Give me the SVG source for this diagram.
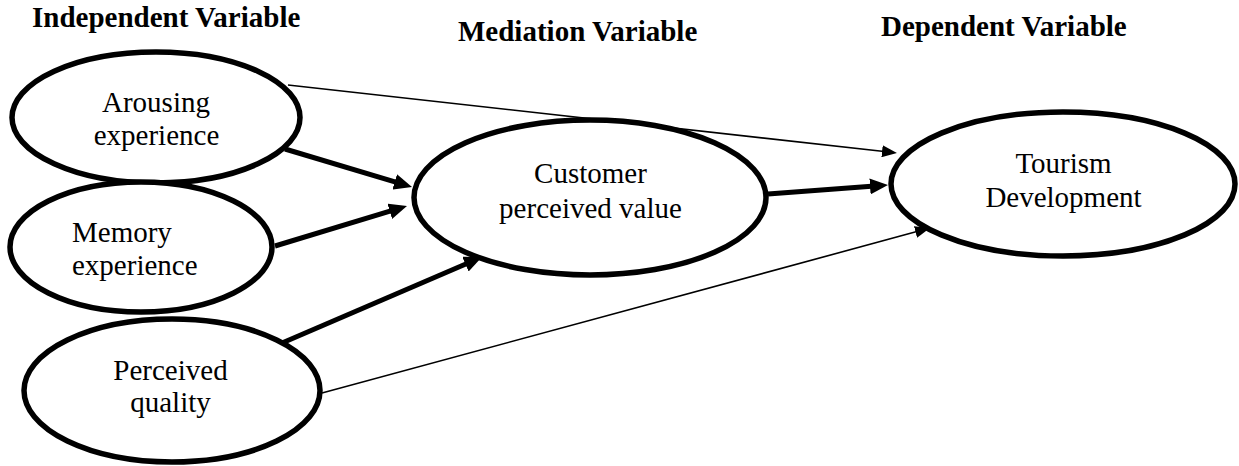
<svg xmlns="http://www.w3.org/2000/svg" width="1239" height="466" viewBox="0 0 1239 466">
  <style>
    .node ellipse { fill: #ffffff; stroke: #000000; stroke-width: 5.5; }
    .label { font-family: "Liberation Serif", "Times New Roman", serif; font-size: 29px; fill: #000000; }
    .title { font-family: "Liberation Serif", "Times New Roman", serif; font-size: 29px; font-weight: bold; fill: #000000; }
    .thick { stroke: #000000; stroke-width: 5; fill: none; marker-end: url(#headThick); }
    .thin { stroke: #000000; stroke-width: 1.6; fill: none; marker-end: url(#headThin); }
  </style>
  <defs>
    <marker id="headThick" markerUnits="userSpaceOnUse" markerWidth="18" markerHeight="16" refX="8" refY="8" orient="auto">
      <path d="M0,0 L18,8 L0,16 z" fill="#000000"/>
    </marker>
    <marker id="headThin" markerUnits="userSpaceOnUse" markerWidth="15" markerHeight="12" refX="9" refY="6" orient="auto">
      <path d="M0,0 L15,6 L0,12 z" fill="#000000"/>
    </marker>
  </defs>
  <rect width="1239" height="466" fill="#ffffff"/>

  <g id="titles">
    <text class="title" x="32" y="27">Independent Variable</text>
    <text class="title" x="458" y="41">Mediation Variable</text>
    <text class="title" x="881" y="36">Dependent Variable</text>
  </g>

  <g id="node-arousing" class="node">
    <ellipse cx="156" cy="117.5" rx="144" ry="65.5"/>
    <text class="label" x="156" y="112" text-anchor="middle">Arousing</text>
    <text class="label" x="156.5" y="145" text-anchor="middle">experience</text>
  </g>
  <g id="node-memory" class="node">
    <ellipse cx="141" cy="247" rx="131" ry="65"/>
    <text class="label" x="72" y="242">Memory</text>
    <text class="label" x="72" y="275">experience</text>
  </g>
  <g id="node-perceived" class="node">
    <ellipse cx="172" cy="390.5" rx="148" ry="71.5"/>
    <text class="label" x="170.5" y="380" text-anchor="middle">Perceived</text>
    <text class="label" x="170.5" y="412" text-anchor="middle">quality</text>
  </g>
  <g id="node-customer" class="node">
    <ellipse cx="590" cy="197.5" rx="176" ry="77.5"/>
    <text class="label" x="590.5" y="183" text-anchor="middle">Customer</text>
    <text class="label" x="590.5" y="218" text-anchor="middle">perceived value</text>
  </g>
  <g id="node-tourism" class="node">
    <ellipse cx="1063" cy="184" rx="172" ry="72"/>
    <text class="label" x="1063.5" y="173" text-anchor="middle">Tourism</text>
    <text class="label" x="1063.5" y="207" text-anchor="middle">Development</text>
  </g>

  <g id="connectors">
    <line class="thick" x1="285" y1="149" x2="402.4" y2="184.1"/>
    <line class="thick" x1="275" y1="246" x2="397.4" y2="208.9"/>
    <line class="thick" x1="282" y1="343" x2="472.8" y2="261"/>
    <line class="thick" x1="768" y1="194" x2="878" y2="185.8"/>
    <line class="thin" x1="288" y1="85" x2="891" y2="152.3"/>
    <line class="thin" x1="322" y1="393" x2="924.2" y2="229.6"/>
  </g>
</svg>
